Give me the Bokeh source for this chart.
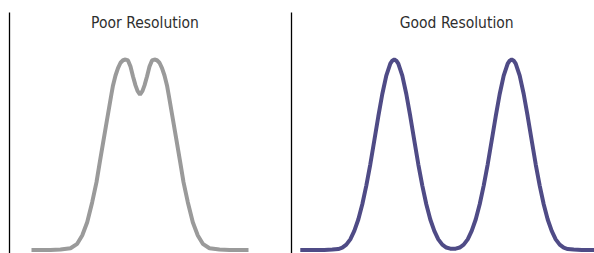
from bokeh.plotting import figure
from bokeh.layouts import row
from bokeh.models import Range1d, FixedTicker
from bokeh.embed import file_html
from bokeh.resources import INLINE
from bokeh.core.properties import value

# ---- data (x: time units, y: detector signal, % of peak height) ----
poor_title = "Poor Resolution"
good_title = "Good Resolution"

poor_x = [22, 41, 51, 61, 67.7, 72.7, 77.7, 82.7, 87, 90.3, 93.7, 97.7, 101.7,
          103.5, 106, 108.5, 111, 113.5, 116, 118.5, 121, 123.5, 126, 128, 130.5,
          133, 135, 137.5, 140, 142.5, 145, 147.5, 150, 152.5, 155, 157.5, 159.3,
          163.3, 167.3, 170.7, 174, 178.3, 183.3, 188.3, 193.3, 200, 210, 220, 239]
poor_y = [0, 0, 0.26, 0.94, 3.25, 7.6, 14.6, 25.1, 35.6, 46.1, 56.6, 68.9, 81.1,
          86.4, 91.6, 95.5, 98.3, 99.6, 100, 99.5, 96.3, 91.1, 86.4, 83.5, 81.6,
          83.5, 86.4, 91.1, 96.3, 99.5, 100, 99.6, 98.3, 95.5, 91.6, 86.4, 81.1,
          68.9, 56.6, 46.1, 35.6, 25.1, 14.6, 7.6, 3.25, 0.94, 0.26, 0, 0]

good_x = [8.8, 32.8, 40.8, 46.8, 50.8, 54.8, 58.8, 62.8, 66.8, 70.8, 74.8, 78.8,
          82.8, 86.8, 90.8, 94.8, 98.8, 100.8, 102.8, 104.8, 106.8, 110.8, 114.8,
          118.8, 122.8, 126.8, 130.8, 134.8, 138.8, 142.8, 146.8, 150.8, 154.8,
          158.8, 161.5, 164.2, 168.2, 172.2, 176.2, 180.2, 184.2, 188.2, 192.2,
          196.2, 200.2, 204.2, 208.2, 212.2, 216.2, 218.2, 220.2, 222.2, 224.2,
          228.2, 232.2, 236.2, 240.2, 244.2, 248.2, 252.2, 256.2, 260.2, 264.2,
          268.2, 272.2, 276.2, 282.2, 290.2, 314.2]
good_y = [0, 0, 0.2, 0.5, 1.2, 2.8, 5.6, 10, 16, 24, 33.8, 45,
          57.5, 70.1, 81.9, 91.5, 97.8, 99.4, 100, 99.4, 97.8, 91.5, 81.9,
          70.1, 57.5, 45, 33.8, 24, 16, 10, 5.6, 2.8, 1.3,
          0.7, 0.6, 0.7, 1.3, 2.8, 5.6, 10, 16, 24, 33.8,
          45, 57.5, 70.1, 81.9, 91.5, 97.8, 99.4, 100, 99.4, 97.8,
          91.5, 81.9, 70.1, 57.5, 45, 33.8, 24, 16, 10, 5.6,
          2.8, 1.2, 0.5, 0.2, 0, 0]

POOR_COLOR = "#9a9a9a"
GOOD_COLOR = "#4f4b86"
FONT = "DejaVu Sans Condensed"

TOTAL_W = 594
W1 = 282
H = 253
Y0, Y1 = -1.84, 124.67


def panel(width, xs, ys, color, title, tx):
    p = figure(width=width, height=H, output_backend="svg", toolbar_location=None,
               x_range=Range1d(0, width - 9), y_range=Range1d(Y0, Y1),
               min_border_left=9, min_border_right=0, min_border_top=12,
               min_border_bottom=0, x_axis_location=None)
    p.outline_line_color = None
    p.grid.visible = False
    ax = p.yaxis[0]
    ax.ticker = FixedTicker(ticks=[])
    ax.major_tick_out = 0
    ax.major_tick_in = 0
    ax.minor_tick_out = 0
    ax.minor_tick_in = 0
    ax.major_label_standoff = 0
    ax.major_label_text_font_size = "0px"
    ax.axis_line_color = "#000000"
    ax.axis_line_width = 1.3
    p.line(xs, ys, line_color=color, line_width=4)
    p.text(x=[tx], y=[119.0], text=[title], text_align="center",
           text_baseline="alphabetic", text_font=value(FONT),
           text_font_size="15.5px", text_color="#2e2e2e")
    return p


left = panel(W1, poor_x, poor_y, POOR_COLOR, poor_title, 135.5)
right = panel(TOTAL_W - W1, good_x, good_y, GOOD_COLOR, good_title, 165.2)

layout = row(left, right)
open("out.html", "w").write(file_html(layout, INLINE))
